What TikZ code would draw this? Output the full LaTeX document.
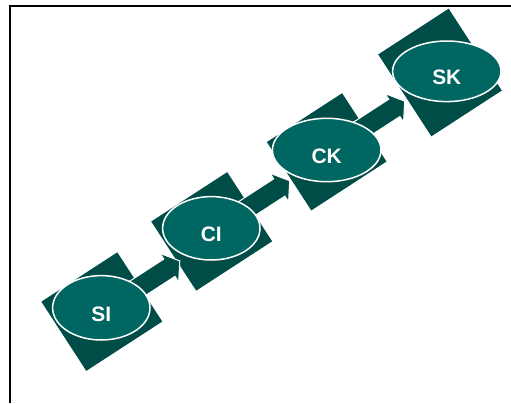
\documentclass[tikz,border=0pt]{standalone}
\usepackage{fontspec}
\setmainfont{Liberation Sans}
\usetikzlibrary{shapes.geometric}
\definecolor{sqc}{RGB}{0,77,71}
\definecolor{elc}{RGB}{0,102,97}
\begin{document}
\begin{tikzpicture}[x=1bp,y=1bp,
  sqbox/.style={rectangle, fill=sqc, inner sep=0pt, rotate=33},
  blob/.style={ellipse, fill=elc, draw=white, line width=1.5bp, inner sep=0pt,
    text=white, font=\fontsize{21}{25}\selectfont\bfseries, text height=27bp, text depth=0pt},
  barrow/.style={fill=sqc, draw=white, line width=1bp, line join=miter}]
\useasboundingbox (0,0) rectangle (511,403);
% frame
\draw[line width=2bp] (10.3,0) -- (10.3,396.8) -- (511,396.8);
% squares and arrows (back to front)
\node[sqbox, minimum width=84bp, minimum height=97.6bp] (sq4) at (440,330.5) {};
\node[sqbox, minimum width=89.7bp, minimum height=81.5bp] (sq3) at (326.7,251.2) {};
\begin{scope}[shift={(sq3.center)}, rotate=33]
  \draw[barrow] (0,10.3) -- (80.6,10.3) -- (80.6,17) -- (93,0) -- (80.6,-17) -- (80.6,-10.3) -- (0,-10.3) -- cycle;
\end{scope}
\node[sqbox, minimum width=90.6bp, minimum height=82.5bp] (sq2) at (211.7,171.6) {};
\begin{scope}[shift={(sq2.center)}, rotate=33]
  \draw[barrow] (0,10.3) -- (80.6,10.3) -- (80.6,17) -- (93,0) -- (80.6,-17) -- (80.6,-10.3) -- (0,-10.3) -- cycle;
\end{scope}
\node[sqbox, minimum width=90.6bp, minimum height=82.5bp] (sq1) at (101.8,91.4) {};
\begin{scope}[shift={(sq1.center)}, rotate=33]
  \draw[barrow] (0,10.3) -- (80.6,10.3) -- (80.6,17) -- (93,0) -- (80.6,-17) -- (80.6,-10.3) -- (0,-10.3) -- cycle;
\end{scope}
% ellipses
\node[blob, minimum width=97.4bp, minimum height=64.4bp] (si) at (101.3,95.2) {SI};
\node[blob, minimum width=97.4bp, minimum height=63.4bp] (ci) at (211.3,174.7) {CI};
\node[blob, minimum width=108.6bp, minimum height=63.4bp] (ck) at (326.7,253) {CK};
\node[blob, minimum width=108.4bp, minimum height=60.6bp] (sk) at (446.8,331.7) {SK};
\end{tikzpicture}
\end{document}
